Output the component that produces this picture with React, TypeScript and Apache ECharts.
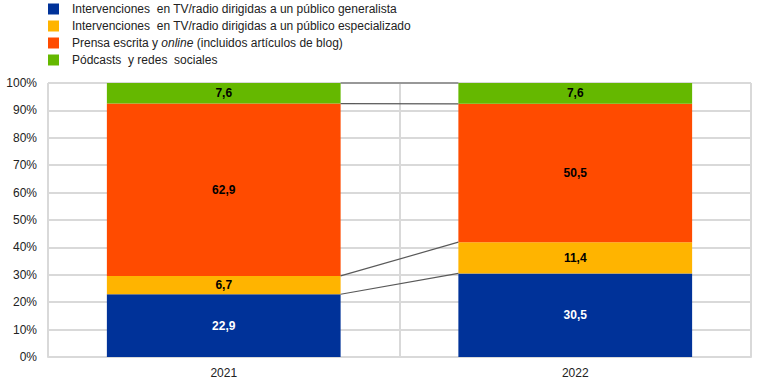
import React, { useEffect, useRef } from "react";
import * as echarts from "echarts";

const categories = ["2021", "2022"];
const seriesNames = [
  "Intervenciones  en TV/radio dirigidas a un público generalista",
  "Intervenciones  en TV/radio dirigidas a un público especializado",
  "Prensa escrita y online (incluidos artículos de blog)",
  "Pódcasts  y redes  sociales",
];
const generalista = [22.9, 30.5];
const especializado = [6.7, 11.4];
const prensa = [62.9, 50.5];
const podcasts = [7.6, 7.6];
const colors = ["#003299", "#FFB400", "#FF4B00", "#65B800"];
const labelColors = ["#ffffff", "#000000", "#000000", "#000000"];
const yTicks = [0, 10, 20, 30, 40, 50, 60, 70, 80, 90, 100];

const BAR_RATIO = 0.665;

export default function App() {
  const ref = useRef<HTMLDivElement>(null);
  useEffect(() => {
    if (!ref.current) return;
    const chart = echarts.init(ref.current, undefined, { renderer: "svg" });
    const all = [generalista, especializado, prensa, podcasts];
    const cum: number[][] = [];
    const run = [0, 0];
    all.forEach((arr) => {
      run[0] += arr[0];
      run[1] += arr[1];
      cum.push([0, Math.min(100, +run[0].toFixed(1)), Math.min(100, +run[1].toFixed(1))]);
    });
    const fmt = (v: number) => v.toFixed(1).replace(".", ",");
    const barSeries = all.map((arr, i) => ({
      name: seriesNames[i],
      type: "bar",
      stack: "s",
      barWidth: BAR_RATIO * 100 + "%",
      data: arr,
      itemStyle: { color: colors[i] },
      label: {
        show: true,
        position: "inside",
        color: labelColors[i],
        fontWeight: "bold",
        fontSize: 12,
        fontFamily: "Liberation Sans, Arial, sans-serif",
        formatter: (p: any) => fmt(p.value),
      },
    }));
    chart.setOption({
      animation: false,
      textStyle: { fontFamily: "Liberation Sans, Arial, sans-serif" },
      legend: {
        data: seriesNames,
        orient: "vertical",
        left: 48,
        top: 3,
        padding: 0,
        itemWidth: 11,
        itemHeight: 11,
        itemGap: 5,
        icon: "rect",
        textStyle: {
          fontSize: 12,
          color: "#222",
          rich: {
            p: { width: 8 },
            n: { fontSize: 12, color: "#222" },
            i: { fontSize: 12, color: "#222", fontStyle: "italic" },
          },
        },
        formatter: (name: string) => {
          if (name.indexOf("online") >= 0) {
            const parts = name.split("online");
            return "{p|}{n|" + parts[0] + "}{i|online}{n|" + parts[1] + "}";
          }
          return "{p|}{n|" + name + "}";
        },
      },
      grid: { left: 48, right: 11, top: 83, bottom: 29, containLabel: false },
      xAxis: {
        type: "category",
        data: categories,
        axisLine: { lineStyle: { color: "#d9d9d9", width: 2 } },
        axisTick: { show: false },
        splitLine: { show: true, lineStyle: { color: "#d9d9d9", width: 2 } },
        axisLabel: { color: "#222", fontSize: 12, margin: 10 },
      },
      yAxis: {
        type: "value",
        min: 0,
        max: 100,
        interval: 10,
        axisLine: { show: false },
        axisTick: { show: false },
        splitLine: { lineStyle: { color: "#d9d9d9", width: 2 } },
        axisLabel: {
          color: "#222",
          fontSize: 12,
          margin: 11,
          formatter: (v: number) => (yTicks.indexOf(v) >= 0 ? v + "%" : ""),
        },
      },
      series: [
        ...barSeries,
        {
          type: "custom",
          name: "seriesLines",
          encode: { x: 0, y: [1, 2] },
          data: cum,
          z: 5,
          silent: true,
          renderItem: (params: any, api: any) => {
            const p0 = api.coord([0, api.value(1)]);
            const p1 = api.coord([1, api.value(2)]);
            const band = api.size([1, 0])[0];
            const half = (band * BAR_RATIO) / 2;
            return {
              type: "line",
              shape: { x1: p0[0] + half, y1: p0[1], x2: p1[0] - half, y2: p1[1] },
              style: { stroke: "#595959", lineWidth: 1.2 },
            };
          },
        },
      ],
    });
    return () => chart.dispose();
  }, []);
  return (
    <div
      ref={ref}
      style={{ position: "absolute", left: 0, top: 0, width: 762, height: 386 }}
    />
  );
}
